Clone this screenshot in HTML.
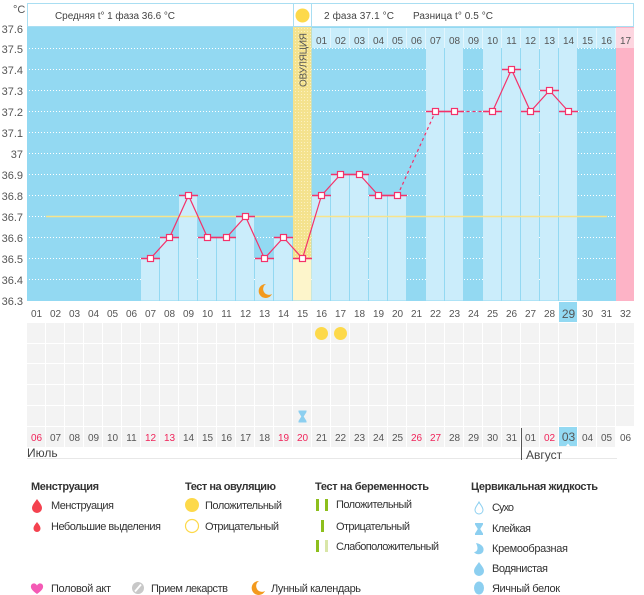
<!DOCTYPE html>
<html><head><meta charset="utf-8"><style>
html,body{margin:0;padding:0;background:#fff;}
svg{display:block;font-family:"Liberation Sans","DejaVu Sans",sans-serif;}
</style></head><body>
<svg width="644" height="595" viewBox="0 0 644 595" xmlns="http://www.w3.org/2000/svg">
<defs>
<pattern id="stripe" patternUnits="userSpaceOnUse" x="27" y="0" width="19" height="1000"><rect x="0" y="0" width="18" height="1000" fill="#f3f3f3"/></pattern>
<pattern id="stripeTop" patternUnits="userSpaceOnUse" x="27" y="0" width="19" height="1000"><rect x="0" y="0" width="19" height="1000" fill="#e2f5fd"/><rect x="0" y="0" width="18" height="1000" fill="#c9edfb"/></pattern>
<pattern id="dots" patternUnits="userSpaceOnUse" width="3" height="3"><rect width="3" height="3" fill="#f4e28e"/><rect x="1" y="1" width="1" height="1" fill="#fbf1c0"/></pattern>
</defs>

<!-- header -->
<text x="13" y="13" font-size="11" fill="#555">°C</text>
<rect x="27.5" y="3.5" width="606" height="23" fill="#fff" stroke="#a9def2"/>
<line x1="293.5" y1="3" x2="293.5" y2="27" stroke="#a9def2"/>
<line x1="311.5" y1="3" x2="311.5" y2="27" stroke="#a9def2"/>
<text x="55" y="19" font-size="10" fill="#444" textLength="120">Средняя t° 1 фаза 36.6 °C</text>
<circle cx="302.5" cy="15.5" r="7" fill="#fdd94a"/>
<text x="324" y="19" font-size="10" fill="#444" textLength="70">2 фаза 37.1 °C</text>
<text x="413" y="19" font-size="10" fill="#444" textLength="80">Разница t° 0.5 °C</text>

<!-- chart bg -->
<rect x="27" y="27" width="589" height="274" fill="#93d9f2"/>
<!-- gridlines -->
<g stroke="#ffffff" stroke-width="1" stroke-dasharray="1,2">
<line x1="29" y1="48.5" x2="616" y2="48.5"/>
<line x1="29" y1="69.5" x2="616" y2="69.5"/>
<line x1="29" y1="90.5" x2="616" y2="90.5"/>
<line x1="29" y1="111.5" x2="616" y2="111.5"/>
<line x1="29" y1="132.5" x2="616" y2="132.5"/>
<line x1="29" y1="153.5" x2="616" y2="153.5"/>
<line x1="29" y1="174.5" x2="616" y2="174.5"/>
<line x1="29" y1="195.5" x2="616" y2="195.5"/>
<line x1="29" y1="216.5" x2="616" y2="216.5"/>
<line x1="29" y1="237.5" x2="616" y2="237.5"/>
<line x1="29" y1="258.5" x2="616" y2="258.5"/>
<line x1="29" y1="279.5" x2="616" y2="279.5"/>
</g>
<!-- pink column -->
<rect x="616" y="27" width="18" height="274" fill="#fdb3c6"/>
<rect x="616" y="28" width="18" height="20" fill="#fdd6e0"/>
<!-- top day row -->
<rect x="312" y="28" width="304" height="20" fill="url(#stripeTop)"/>
<!-- ovulation column -->
<rect x="293" y="27" width="18.5" height="232" fill="url(#dots)"/>
<rect x="293" y="258.5" width="18.5" height="42" fill="#fdf5cb"/>
<text transform="translate(306.5,60) rotate(-90)" font-size="10" fill="#555" text-anchor="middle" textLength="54">ОВУЛЯЦИЯ</text>

<!-- bars -->
<g fill="#cbedfb">
<rect x="141" y="258.5" width="18" height="42"/>
<rect x="160" y="237.5" width="18" height="63"/>
<rect x="179" y="195.5" width="18" height="105"/>
<rect x="198" y="237.5" width="18" height="63"/>
<rect x="217" y="237.5" width="18" height="63"/>
<rect x="236" y="216.5" width="18" height="84"/>
<rect x="255" y="258.5" width="18" height="42"/>
<rect x="274" y="237.5" width="18" height="63"/>
<rect x="312" y="195.5" width="18" height="105"/>
<rect x="331" y="174.5" width="18" height="126"/>
<rect x="350" y="174.5" width="18" height="126"/>
<rect x="369" y="195.5" width="18" height="105"/>
<rect x="388" y="195.5" width="18" height="105"/>
<rect x="426" y="48" width="18" height="252.5"/>
<rect x="445" y="48" width="18" height="252.5"/>
<rect x="483" y="48" width="18" height="252.5"/>
<rect x="502" y="48" width="18" height="252.5"/>
<rect x="521" y="48" width="18" height="252.5"/>
<rect x="540" y="48" width="18" height="252.5"/>
<rect x="559" y="48" width="18" height="252.5"/>
</g>
<!-- restore blue above lower bars in the day row area columns 22+ is light; fix blue area above bar tops for 22-29 -->
<g fill="#93d9f2">
<rect x="426" y="48" width="18" height="0"/>
</g>
<!-- redraw top day row over bars -->
<rect x="312" y="28" width="304" height="20" fill="url(#stripeTop)"/>
<rect x="616" y="28" width="18" height="20" fill="#fdd6e0"/>

<g font-size="10" fill="#555" text-anchor="middle">
<text x="321.5" y="44">01</text><text x="340.5" y="44">02</text><text x="359.5" y="44">03</text><text x="378.5" y="44">04</text><text x="397.5" y="44">05</text><text x="416.5" y="44">06</text><text x="435.5" y="44">07</text><text x="454.5" y="44">08</text><text x="473.5" y="44">09</text><text x="492.5" y="44">10</text><text x="511.5" y="44">11</text><text x="530.5" y="44">12</text><text x="549.5" y="44">13</text><text x="568.5" y="44">14</text><text x="587.5" y="44">15</text><text x="606.5" y="44">16</text><text x="625.5" y="44">17</text>
</g>

<!-- average line -->
<line x1="46" y1="216.5" x2="607" y2="216.5" stroke="#f8e48c" stroke-width="1.5"/>

<!-- bar tops -->
<g stroke="#f4326a" stroke-width="1.5">
<line x1="141" y1="258.5" x2="160" y2="258.5"/>
<line x1="160" y1="237.5" x2="179" y2="237.5"/>
<line x1="179" y1="195.5" x2="198" y2="195.5"/>
<line x1="198" y1="237.5" x2="217" y2="237.5"/>
<line x1="217" y1="237.5" x2="236" y2="237.5"/>
<line x1="236" y1="216.5" x2="255" y2="216.5"/>
<line x1="255" y1="258.5" x2="274" y2="258.5"/>
<line x1="274" y1="237.5" x2="293" y2="237.5"/>
<line x1="293" y1="258.5" x2="312" y2="258.5"/>
<line x1="312" y1="195.5" x2="331" y2="195.5"/>
<line x1="331" y1="174.5" x2="350" y2="174.5"/>
<line x1="350" y1="174.5" x2="369" y2="174.5"/>
<line x1="369" y1="195.5" x2="388" y2="195.5"/>
<line x1="388" y1="195.5" x2="407" y2="195.5"/>
<line x1="426" y1="111.5" x2="445" y2="111.5"/>
<line x1="445" y1="111.5" x2="464" y2="111.5"/>
<line x1="483" y1="111.5" x2="502" y2="111.5"/>
<line x1="502" y1="69.5" x2="521" y2="69.5"/>
<line x1="521" y1="111.5" x2="540" y2="111.5"/>
<line x1="540" y1="90.5" x2="559" y2="90.5"/>
<line x1="559" y1="111.5" x2="578" y2="111.5"/>
</g>
<!-- data line -->
<polyline fill="none" stroke="#f4326a" stroke-width="1.2" points="150.5,258.5 169.5,237.5 188.5,195.5 207.5,237.5 226.5,237.5 245.5,216.5 264.5,258.5 283.5,237.5 302.5,258.5 321.5,195.5 340.5,174.5 359.5,174.5 378.5,195.5 397.5,195.5"/>
<polyline fill="none" stroke="#f4326a" stroke-width="1.2" stroke-dasharray="3,3" points="397.5,195.5 435.5,111.5"/>
<polyline fill="none" stroke="#f4326a" stroke-width="1.2" points="435.5,111.5 454.5,111.5"/>
<polyline fill="none" stroke="#f4326a" stroke-width="1.2" stroke-dasharray="3,3" points="454.5,111.5 492.5,111.5"/>
<polyline fill="none" stroke="#f4326a" stroke-width="1.2" points="492.5,111.5 511.5,69.5 530.5,111.5 549.5,90.5 568.5,111.5"/>
<!-- markers -->
<g fill="#fff" stroke="#f4326a" stroke-width="1.2">
<rect x="147.5" y="255.5" width="6" height="6"/>
<rect x="166.5" y="234.5" width="6" height="6"/>
<rect x="185.5" y="192.5" width="6" height="6"/>
<rect x="204.5" y="234.5" width="6" height="6"/>
<rect x="223.5" y="234.5" width="6" height="6"/>
<rect x="242.5" y="213.5" width="6" height="6"/>
<rect x="261.5" y="255.5" width="6" height="6"/>
<rect x="280.5" y="234.5" width="6" height="6"/>
<rect x="299.5" y="255.5" width="6" height="6"/>
<rect x="318.5" y="192.5" width="6" height="6"/>
<rect x="337.5" y="171.5" width="6" height="6"/>
<rect x="356.5" y="171.5" width="6" height="6"/>
<rect x="375.5" y="192.5" width="6" height="6"/>
<rect x="394.5" y="192.5" width="6" height="6"/>
<rect x="432.5" y="108.5" width="6" height="6"/>
<rect x="451.5" y="108.5" width="6" height="6"/>
<rect x="489.5" y="108.5" width="6" height="6"/>
<rect x="508.5" y="66.5" width="6" height="6"/>
<rect x="527.5" y="108.5" width="6" height="6"/>
<rect x="546.5" y="87.5" width="6" height="6"/>
<rect x="565.5" y="108.5" width="6" height="6"/>
</g>
<!-- moon in chart -->
<path transform="translate(265,291)" d="M1,-7 A7,7 0 1 0 7,3 A5.5,5.5 0 0 1 1,-7Z" fill="#f39a1e"/>

<!-- y labels -->
<g font-size="11" fill="#555" text-anchor="end">
<text x="23" y="33">37.6</text><text x="23" y="53">37.5</text><text x="23" y="74">37.4</text><text x="23" y="95">37.3</text><text x="23" y="116">37.2</text><text x="23" y="137">37.1</text><text x="23" y="158">37</text><text x="23" y="179">36.9</text><text x="23" y="200">36.8</text><text x="23" y="221">36.7</text><text x="23" y="242">36.6</text><text x="23" y="263">36.5</text><text x="23" y="284">36.4</text><text x="23" y="305">36.3</text>
</g>

<!-- bottom cycle-day row -->
<rect x="559" y="302" width="18" height="20" fill="#93d9f2"/>
<g font-size="10" fill="#555" text-anchor="middle">
<text x="36.5" y="317">01</text><text x="55.5" y="317">02</text><text x="74.5" y="317">03</text><text x="93.5" y="317">04</text><text x="112.5" y="317">05</text><text x="131.5" y="317">06</text><text x="150.5" y="317">07</text><text x="169.5" y="317">08</text><text x="188.5" y="317">09</text><text x="207.5" y="317">10</text><text x="226.5" y="317">11</text><text x="245.5" y="317">12</text><text x="264.5" y="317">13</text><text x="283.5" y="317">14</text><text x="302.5" y="317">15</text><text x="321.5" y="317">16</text><text x="340.5" y="317">17</text><text x="359.5" y="317">18</text><text x="378.5" y="317">19</text><text x="397.5" y="317">20</text><text x="416.5" y="317">21</text><text x="435.5" y="317">22</text><text x="454.5" y="317">23</text><text x="473.5" y="317">24</text><text x="492.5" y="317">25</text><text x="511.5" y="317">26</text><text x="530.5" y="317">27</text><text x="549.5" y="317">28</text><text x="568.5" y="318" font-size="12">29</text><text x="587.5" y="317">30</text><text x="606.5" y="317">31</text><text x="625.5" y="317">32</text>
</g>

<!-- bottom grid -->
<rect x="27" y="323" width="608" height="20" fill="url(#stripe)"/>
<rect x="27" y="344" width="608" height="19" fill="url(#stripe)"/>
<rect x="27" y="364" width="608" height="20" fill="url(#stripe)"/>
<rect x="27" y="385" width="608" height="20" fill="url(#stripe)"/>
<rect x="27" y="406" width="608" height="20" fill="url(#stripe)"/>
<rect x="27" y="427" width="589" height="20" fill="url(#stripe)"/>
<circle cx="321.5" cy="333.5" r="6.5" fill="#fdd94a"/>
<circle cx="340.5" cy="333.5" r="6.5" fill="#fdd94a"/>
<path transform="translate(302.5,416.5)" d="M-4,-6 H4 V-4.5 L1.2,0 L4,4.5 V6 H-4 V4.5 L-1.2,0 L-4,-4.5Z" fill="#8ccff0"/>

<rect x="559" y="427" width="18" height="19" fill="#93d9f2"/>
<path d="M566,446 L568,443.5 L570,446Z" fill="#fff"/>
<g font-size="10" fill="#555" text-anchor="middle">
<text x="36.5" y="441" fill="#f0245a">06</text><text x="55.5" y="441">07</text><text x="74.5" y="441">08</text><text x="93.5" y="441">09</text><text x="112.5" y="441">10</text><text x="131.5" y="441">11</text><text x="150.5" y="441" fill="#f0245a">12</text><text x="169.5" y="441" fill="#f0245a">13</text><text x="188.5" y="441">14</text><text x="207.5" y="441">15</text><text x="226.5" y="441">16</text><text x="245.5" y="441">17</text><text x="264.5" y="441">18</text><text x="283.5" y="441" fill="#f0245a">19</text><text x="302.5" y="441" fill="#f0245a">20</text><text x="321.5" y="441">21</text><text x="340.5" y="441">22</text><text x="359.5" y="441">23</text><text x="378.5" y="441">24</text><text x="397.5" y="441">25</text><text x="416.5" y="441" fill="#f0245a">26</text><text x="435.5" y="441" fill="#f0245a">27</text><text x="454.5" y="441">28</text><text x="473.5" y="441">29</text><text x="492.5" y="441">30</text><text x="511.5" y="441">31</text><text x="530.5" y="441">01</text><text x="549.5" y="441" fill="#f0245a">02</text><text x="568.5" y="441" font-size="12">03</text><text x="587.5" y="441">04</text><text x="606.5" y="441">05</text><text x="625.5" y="441">06</text>
</g>
<line x1="27" y1="458.5" x2="617" y2="458.5" stroke="#e8e8e8"/>
<line x1="521.5" y1="428" x2="521.5" y2="460" stroke="#555"/>
<text x="27" y="457" font-size="12" fill="#444">Июль</text>
<text x="526" y="459" font-size="12" fill="#444">Август</text>

<!-- legend -->
<g font-size="11" fill="#333" font-weight="bold">
<text x="31" y="490" textLength="68">Менструация</text>
<text x="185" y="490" textLength="91">Тест на овуляцию</text>
<text x="315" y="490" textLength="114">Тест на беременность</text>
<text x="471" y="490" textLength="127">Цервикальная жидкость</text>
</g>
<g font-size="11" fill="#333">
<text x="51" y="509" textLength="63">Менструация</text>
<text x="51" y="530" textLength="110">Небольшие выделения</text>
<text x="205" y="509" textLength="77">Положительный</text>
<text x="205" y="530" textLength="74">Отрицательный</text>
<text x="336" y="508" textLength="76">Положительный</text>
<text x="336" y="530" textLength="74">Отрицательный</text>
<text x="336" y="550" textLength="103">Слабоположительный</text>
<text x="492" y="511" textLength="22">Сухо</text>
<text x="492" y="532" textLength="39">Клейкая</text>
<text x="492" y="552" textLength="76">Кремообразная</text>
<text x="492" y="572" textLength="56">Водянистая</text>
<text x="492" y="592" textLength="68">Яичный белок</text>
<text x="51" y="592" textLength="60">Половой акт</text>
<text x="151" y="592" textLength="77">Прием лекарств</text>
<text x="271" y="592" textLength="90">Лунный календарь</text>
</g>
<!-- legend icons -->
<path transform="translate(37,506)" d="M0,-7 C2,-4 5,-1 5,2 A5,5 0 0 1 -5,2 C-5,-1 -2,-4 0,-7Z" fill="#f4424f"/>
<path transform="translate(37,527)" d="M0,-5 C1.5,-3 3.5,-1 3.5,1.5 A3.5,3.5 0 0 1 -3.5,1.5 C-3.5,-1 -1.5,-3 0,-5Z" fill="#f4424f"/>
<circle cx="192" cy="505" r="7" fill="#fdd94a"/>
<circle cx="192" cy="526" r="6.5" fill="#fff" stroke="#fdd94a" stroke-width="1.2"/>
<rect x="316" y="499" width="3" height="12" fill="#8dbf1c"/>
<rect x="325" y="499" width="3" height="12" fill="#8dbf1c"/>
<rect x="321" y="520" width="3" height="12" fill="#8dbf1c"/>
<rect x="316" y="540" width="3" height="12" fill="#8dbf1c"/>
<rect x="325" y="540" width="3" height="12" fill="#d9e6a8"/>
<path transform="translate(479,508)" d="M0,-6 C1.5,-3 4,-1 4,2 A4,4 0 0 1 -4,2 C-4,-1 -1.5,-3 0,-6Z" fill="#fff" stroke="#8ccff0" stroke-width="1"/>
<path transform="translate(479,529)" d="M-4,-6 H4 V-4.5 L1.2,0 L4,4.5 V6 H-4 V4.5 L-1.2,0 L-4,-4.5Z" fill="#8ccff0"/>
<path transform="translate(479,549)" d="M-3,-6 C3,-5 6,-1 4,3 C2,6 -3,6 -5,3 C-2,3 0,0 -3,-6Z" fill="#8ccff0"/>
<path transform="translate(479,569)" d="M0,-7 C2,-4 5,-1 5,2 A5,5 0 0 1 -5,2 C-5,-1 -2,-4 0,-7Z" fill="#8ccff0"/>
<ellipse cx="479" cy="588" rx="5" ry="6.5" fill="#8ccff0"/>
<path transform="translate(37,589)" d="M0,5 C-6,1 -7,-2 -5.5,-4.5 C-3.5,-6.5 -1,-5.5 0,-3.5 C1,-5.5 3.5,-6.5 5.5,-4.5 C7,-2 6,1 0,5Z" fill="#f45ab5"/>
<circle cx="138" cy="588" r="6" fill="#c8c8c8"/>
<line x1="135" y1="591.5" x2="141" y2="584.5" stroke="#fff" stroke-width="1.8"/>
<path transform="translate(258,588)" d="M1,-7 A7,7 0 1 0 7,3 A5.5,5.5 0 0 1 1,-7Z" fill="#f39a1e"/>
</svg>
</body></html>
